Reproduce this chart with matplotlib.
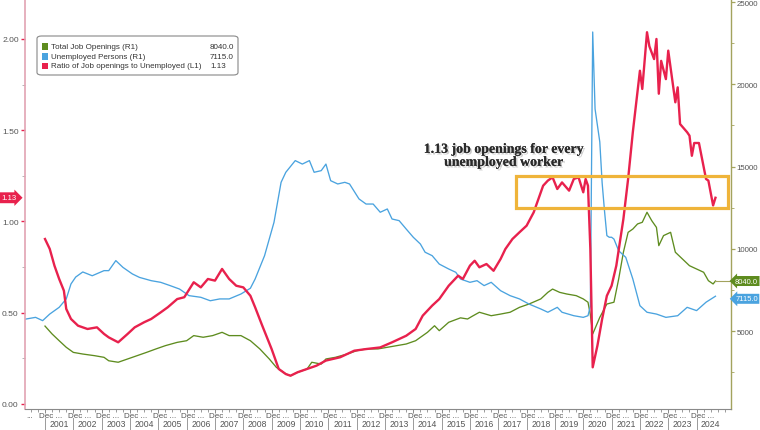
import matplotlib
matplotlib.use("Agg")
import matplotlib.pyplot as plt
import matplotlib.patheffects as pe
import matplotlib.transforms as mtrans
from matplotlib.patches import Rectangle, FancyBboxPatch
from matplotlib.ticker import FixedLocator, MultipleLocator, NullFormatter

# ---------------- data (thousands / ratio), monthly dates "YYYY-MM" ----------------
openings_dates = ["2000-12","2001-03","2001-06","2001-09","2001-12","2002-04","2002-09","2003-01","2003-03","2003-07","2003-11",
    "2004-03","2004-07","2004-11","2005-03","2005-08","2005-12","2006-03","2006-07","2006-11","2007-03","2007-06","2007-11",
    "2008-03","2008-07","2008-11","2009-02","2009-06","2009-08","2009-11","2010-03","2010-05","2010-09","2010-11","2011-03",
    "2011-08","2011-12","2012-04","2012-09","2013-01","2013-05","2013-09","2014-01","2014-06","2014-09","2014-11","2015-03",
    "2015-08","2015-11","2016-01","2016-04","2016-09","2017-01","2017-05","2017-09","2018-01","2018-06","2018-09","2018-11",
    "2019-02","2019-05","2019-09","2019-12","2020-02","2020-03","2020-04","2020-07","2020-10","2021-01","2021-03","2021-05",
    "2021-07","2021-09","2021-11","2022-01","2022-03","2022-05","2022-07","2022-08","2022-10","2023-01","2023-03","2023-06",
    "2023-09","2023-12","2024-03","2024-05","2024-07","2024-08"]
openings_values = [5300,4820,4410,4010,3700,3600,3500,3400,3190,3100,3300,
    3500,3700,3910,4110,4310,4410,4720,4620,4720,4920,4720,4720,
    4410,3910,3300,2790,2390,2280,2490,2690,3100,2990,3300,3400,
    3600,3800,3910,3910,4010,4110,4210,4410,4920,5320,5020,5530,
    5800,5730,5900,6140,5930,6030,6140,6440,6640,6950,7350,7550,
    7350,7250,7150,6950,6750,6000,4820,5830,6640,6750,8160,9790,
    11000,11200,11510,11610,12220,11710,11300,10190,10800,11000,9790,9380,
    8970,8770,8570,8060,7860,8040]

unemployed_dates = ["2000-03","2000-04","2000-08","2000-11","2001-02","2001-06","2001-09","2001-11","2002-01","2002-04",
    "2002-08","2003-01","2003-03","2003-06","2003-09","2004-01","2004-04","2004-09","2005-01","2005-05","2005-09","2006-01",
    "2006-06","2006-10","2007-02","2007-06","2007-11","2008-03","2008-05","2008-09","2009-01","2009-04","2009-06","2009-10",
    "2010-01","2010-04","2010-06","2010-09","2010-11","2011-01","2011-04","2011-07","2011-09","2012-01","2012-04","2012-07",
    "2012-10","2013-01","2013-03","2013-06","2013-09","2013-12","2014-03","2014-05","2014-08","2014-11","2015-03","2015-06",
    "2015-08","2015-12","2016-03","2016-06","2016-09","2017-01","2017-05","2017-09","2018-01","2018-06","2018-09","2019-01",
    "2019-03","2019-08","2019-12","2020-02","2020-03","2020-04","2020-05","2020-06","2020-07","2020-08","2020-09","2020-10",
    "2020-11","2020-12","2021-01","2021-03","2021-06","2021-09","2021-12","2022-03","2022-07","2022-11","2023-04","2023-08",
    "2023-12","2024-04","2024-08"]
unemployed_values = [5700,5730,5830,5630,6030,6440,6950,7860,8280,8590,
    8360,8670,8670,9280,8870,8470,8260,8060,7960,7760,7550,7150,
    7050,6840,6950,6950,7250,7600,8160,9580,11610,14040,14650,15360,
    15150,15360,14650,14750,15150,14140,13940,14040,13940,13030,12720,12720,
    12220,12420,11810,11710,11200,10700,10290,9790,9580,9070,8770,8570,
    8160,7960,8060,7760,7960,7450,7150,6950,6640,6340,6140,6440,
    6140,5930,5830,5930,6500,23180,18500,17500,16500,14000,12300,10800,
    10700,10700,10590,9880,9480,8160,6540,6140,6030,5830,5930,6440,
    6240,6750,7115]

ratio_dates = ["2000-12","2001-02","2001-04","2001-06","2001-08","2001-09","2001-11","2002-02","2002-06","2002-10","2003-01",
    "2003-03","2003-07","2003-11","2004-02","2004-06","2004-09","2005-01","2005-04","2005-08","2005-11","2006-03","2006-06",
    "2006-09","2006-12","2007-03","2007-06","2007-09","2007-12","2008-03","2008-05","2008-08","2008-12","2009-03","2009-06",
    "2009-08","2009-11","2010-03","2010-07","2010-11","2011-05","2011-11","2012-04","2012-10","2013-03","2013-09","2014-01",
    "2014-04","2014-08","2014-11","2015-03","2015-07","2015-09","2015-12","2016-02","2016-04","2016-07","2016-10","2017-01",
    "2017-03","2017-06","2017-09","2017-12","2018-03","2018-05","2018-07","2018-09","2018-11","2019-01","2019-03","2019-06",
    "2019-08","2019-10","2019-12","2020-01","2020-02","2020-03","2020-04","2020-06","2020-08","2020-10","2020-12","2021-02",
    "2021-05","2021-07","2021-09","2021-12","2022-01","2022-03","2022-04","2022-06","2022-07","2022-08","2022-09","2022-11",
    "2022-12","2023-03","2023-04","2023-05","2023-08","2023-09","2023-10","2023-11","2024-01","2024-04","2024-05","2024-07",
    "2024-08"]
ratio_values = [0.904,0.85,0.758,0.685,0.621,0.521,0.466,0.429,0.411,0.42,0.384,
    0.365,0.338,0.384,0.42,0.448,0.466,0.502,0.53,0.575,0.585,0.667,0.639,
    0.685,0.676,0.74,0.685,0.648,0.639,0.593,0.53,0.43,0.301,0.192,0.164,
    0.155,0.174,0.192,0.21,0.238,0.256,0.292,0.301,0.31,0.338,0.374,0.411,
    0.484,0.539,0.575,0.648,0.703,0.685,0.758,0.785,0.749,0.767,0.73,0.795,
    0.849,0.904,0.941,0.977,1.05,1.123,1.196,1.224,1.242,1.178,1.214,1.169,
    1.233,1.242,1.16,1.233,1.196,0.85,0.201,0.32,0.466,0.593,0.648,0.758,
    1.014,1.233,1.49,1.826,1.726,2.037,1.96,1.89,2.0,1.70,1.88,1.78,
    1.936,1.653,1.735,1.534,1.489,1.47,1.36,1.43,1.43,1.233,1.224,1.088,
    1.13]

years = list(range(2001, 2025))
series_labels = ["Total Job Openings (R1)", "Unemployed Persons (R1)",
                 "Ratio of Job openings to Unemployed (L1)"]
annotation_text = "1.13 job openings for every\nunemployed worker"

# ---------------- styling ----------------
GREEN = "#5e8c1f"
BLUE = "#4aa3df"
RED = "#e8214d"
OLIVE = "#a3a35e"
PINK = "#e2a3b3"
TXT = "#555555"
FONT = "Liberation Sans"

def to_t(s):
    y, m = s.split("-")
    return int(y) + int(m) / 12.0

W, H = 760, 431
fig = plt.figure(figsize=(W / 100, H / 100), dpi=100)
fig.patch.set_facecolor("white")

def fx(x):
    return x / W

def fy(y):
    return 1 - y / H

ax = fig.add_axes([fx(25), fy(410), (731 - 25) / W, 410 / H])
ax2 = ax.twinx()
ax.set_zorder(ax2.get_zorder() + 1)
ax.patch.set_visible(False)

XL = (2000.294, 2025.215)
ax.set_xlim(*XL)
ax.set_ylim(-0.0274, 2.219)
ax2.set_ylim(258, 25186)

to = [to_t(d) for d in openings_dates]
tu = [to_t(d) for d in unemployed_dates]
tr = [to_t(d) for d in ratio_dates]

ax2.plot(to, openings_values, color=GREEN, lw=0.95)
ax2.plot(tu, unemployed_values, color=BLUE, lw=0.95)
ax2.plot([to[-1], XL[1]], [openings_values[-1]] * 2, color=OLIVE, lw=0.8, clip_on=False)
ax.plot(tr, ratio_values, color=RED, lw=1.7)

# spines
ax.spines["top"].set_visible(False)
ax2.spines["top"].set_visible(False)
ax.spines["right"].set_visible(False)
ax2.spines["left"].set_visible(False)
ax2.spines["bottom"].set_visible(False)
ax.spines["left"].set_color(PINK)
ax.spines["left"].set_linewidth(1.2)
ax2.spines["right"].set_color(OLIVE)
ax2.spines["right"].set_linewidth(1.0)
ax.spines["bottom"].set_color("#8a8a8a")
ax.spines["bottom"].set_linewidth(0.8)

# left ticks
ax.yaxis.set_major_locator(FixedLocator([0, 0.5, 1.0, 1.5, 2.0]))
ax.yaxis.set_minor_locator(MultipleLocator(0.25))
ax.set_yticklabels(["%.2f" % v for v in [0, 0.5, 1.0, 1.5, 2.0]])
ax.tick_params(axis="y", which="major", direction="out", length=3, width=1.0, color=RED,
               labelsize=6.1, labelcolor=TXT, pad=1.5)
ax.tick_params(axis="y", which="minor", direction="out", length=2, width=0.6, color="#aaaaaa")
for lab in ax.get_yticklabels():
    lab.set_fontfamily(FONT)

# right ticks
ax2.yaxis.set_major_locator(FixedLocator([5000, 10000, 15000, 20000, 25000]))
ax2.yaxis.set_minor_locator(MultipleLocator(2500))
ax2.set_yticklabels(["%d" % v for v in [5000, 10000, 15000, 20000, 25000]])
ax2.tick_params(axis="y", which="major", direction="out", length=3, width=0.9, color=OLIVE,
                labelsize=5.7, labelcolor=TXT, pad=1.2)
ax2.tick_params(axis="y", which="minor", direction="out", length=2, width=0.6, color=OLIVE)
for lab in ax2.get_yticklabels():
    lab.set_fontfamily(FONT)

# x ticks: marks only, labels drawn as text
ax.xaxis.set_major_locator(FixedLocator([float(y) for y in years]))
ax.xaxis.set_major_formatter(NullFormatter())
ax.xaxis.set_minor_locator(MultipleLocator(0.25))
ax.tick_params(axis="x", which="major", direction="out", length=3, width=0.7, color="#8a8a8a")
ax.tick_params(axis="x", which="minor", direction="out", length=2, width=0.6, color="#8a8a8a")

btr = mtrans.blended_transform_factory(ax.transData, fig.transFigure)
ax.text(2000.47, fy(416.5), "...", transform=btr, ha="center", va="center",
        fontsize=5.8, color=TXT, family=FONT, clip_on=False)
for y in years:
    ax.text(y - 0.2, fy(416.5), "Dec ...", transform=btr, ha="left", va="center",
            fontsize=5.8, color=TXT, family=FONT, clip_on=False)
    ax.text(y + 0.5, fy(425), str(y), transform=btr, ha="center", va="center",
            fontsize=6.2, color=TXT, family=FONT, clip_on=False)
    ax.plot([y, y], [fy(419), fy(431)], transform=btr, color="#9a9a9a", lw=0.7, clip_on=False)

# orange highlight box
ax.add_patch(Rectangle((2017.625, 1.072), 2025.12 - 2017.625, 1.251 - 1.072,
                       fill=False, edgecolor="#efb43a", lw=2.3, clip_on=False, zorder=6))

# annotation
ax.text(2017.2, 1.36, annotation_text, ha="center", va="center", fontsize=10,
        family="Liberation Serif", fontweight="bold", color="#2a2a2a", linespacing=1.0,
        zorder=7,
        path_effects=[pe.withSimplePatchShadow(offset=(1.2, -1.2), shadow_rgbFace="#999999", alpha=0.5),
                      pe.Normal()])

# legend (manual)
fig.patches.append(FancyBboxPatch((fx(37), fy(76)), fx(238) - fx(37), fy(37) - fy(76),
                                  boxstyle="round,pad=0,rounding_size=0.006",
                                  transform=fig.transFigure, facecolor="white",
                                  edgecolor="#888888", lw=0.8, zorder=8))
leg_vals = ["%.1f" % openings_values[-1], "%.1f" % unemployed_values[-1], "%.2f" % ratio_values[-1]]
leg_cols = [GREEN, BLUE, RED]
for i, (lab, val, col) in enumerate(zip(series_labels, leg_vals, leg_cols)):
    yy = 47.5 + i * 9.7
    fig.patches.append(Rectangle((fx(41.5), fy(yy + 3.3)), fx(6.5), 6.5 / H,
                                 transform=fig.transFigure, facecolor=col, edgecolor="none", zorder=9))
    fig.text(fx(51), fy(yy), lab, ha="left", va="center", fontsize=5.75, color="#333333",
             family=FONT, zorder=10)
    fig.text(fx(210), fy(yy), val, ha="left", va="center", fontsize=5.75, color="#333333",
             family=FONT, zorder=10)

# value tags
fig.canvas.draw()
def data_to_figy(axis, v):
    disp = axis.transData.transform((XL[0], v))
    return fig.transFigure.inverted().transform(disp)[1]

ry = data_to_figy(ax, ratio_values[-1])
fig.text(fx(9), ry, "%.2f" % ratio_values[-1], ha="center", va="center", fontsize=5.6,
         color="white", family=FONT,
         bbox=dict(boxstyle="rarrow,pad=0.25", facecolor=RED, edgecolor="none"))
gy = data_to_figy(ax2, openings_values[-1])
fig.text(fx(746.5), gy, "%.1f" % openings_values[-1], ha="center", va="center", fontsize=5.4,
         color="white", family=FONT,
         bbox=dict(boxstyle="larrow,pad=0.2", facecolor=GREEN, edgecolor="none"))
by = data_to_figy(ax2, unemployed_values[-1])
fig.text(fx(746.5), by - 0.006, "%.1f" % unemployed_values[-1], ha="center", va="center", fontsize=5.4,
         color="white", family=FONT,
         bbox=dict(boxstyle="larrow,pad=0.2", facecolor=BLUE, edgecolor="none"))

fig.savefig("out.png", dpi=100, facecolor="white")
